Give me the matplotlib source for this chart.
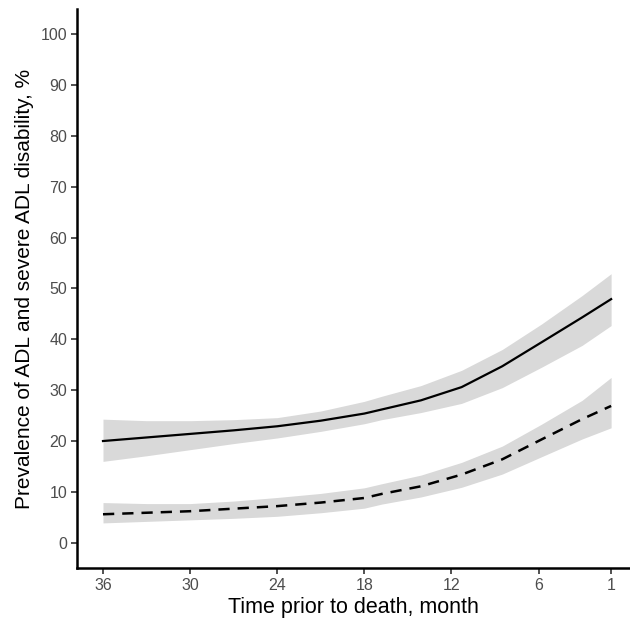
import matplotlib.pyplot as plt

plt.rcParams["font.family"] = ["Liberation Sans", "DejaVu Sans"]

# months prior to death
months = [36, 33, 30, 27, 24, 21, 18, 16.8, 14.1, 11.3, 8.5, 5.8, 3, 1]

# ADL disability (solid) with confidence band
adl = [20.0, 20.7, 21.4, 22.1, 22.9, 24.0, 25.4, 26.2, 28.0, 30.6, 34.7, 39.4, 44.3, 47.9]
adl_lo = [16.0, 17.1, 18.3, 19.5, 20.6, 21.9, 23.4, 24.2, 25.6, 27.4, 30.5, 34.5, 38.8, 42.7]
adl_hi = [24.3, 24.0, 24.0, 24.2, 24.6, 25.9, 27.8, 28.8, 30.9, 33.9, 38.0, 43.0, 48.6, 52.9]

# severe ADL disability (dashed) with confidence band
sev = [5.6, 5.9, 6.2, 6.7, 7.2, 7.9, 8.8, 9.6, 11.1, 13.4, 16.4, 20.3, 24.3, 26.9]
sev_lo = [3.9, 4.2, 4.5, 4.8, 5.2, 5.9, 6.8, 7.6, 9.0, 10.9, 13.5, 16.9, 20.4, 22.6]
sev_hi = [7.9, 7.7, 7.7, 8.2, 8.9, 9.7, 10.8, 11.6, 13.3, 15.8, 19.0, 23.3, 28.0, 32.5]

xticks = [36, 30, 24, 18, 12, 6, 1]
yticks = list(range(0, 101, 10))

fig = plt.figure(figsize=(6.3, 6.23), dpi=100)
ax = fig.add_axes([0.122, 0.088, 0.878, 0.898])

band = "#d9d9d9"
ax.fill_between(months, adl_lo, adl_hi, color=band, linewidth=0)
ax.fill_between(months, sev_lo, sev_hi, color=band, linewidth=0)
ax.plot(months, adl, color="black", lw=1.6, solid_joinstyle="round")
ax.plot(months, sev, color="black", lw=1.8, linestyle=(0, (4.5, 3.2)))

ax.set_xlim(37.8, -0.3)
ax.set_ylim(-5, 105)
ax.set_xticks(xticks)
ax.set_xticklabels([str(t) for t in xticks])
ax.set_yticks(yticks)

for s in ["top", "right"]:
    ax.spines[s].set_visible(False)
for s in ["left", "bottom"]:
    ax.spines[s].set_linewidth(1.8)
    ax.spines[s].set_color("black")

ax.tick_params(axis="both", length=4, width=1.2, color="#333333",
               labelcolor="#4d4d4d", labelsize=11.5, pad=3)

ax.set_xlabel("Time prior to death, month", fontsize=15.5, labelpad=3)
ax.set_ylabel("Prevalence of ADL and severe ADL disability, %", fontsize=15, labelpad=5)

fig.savefig("out.png", dpi=100)
